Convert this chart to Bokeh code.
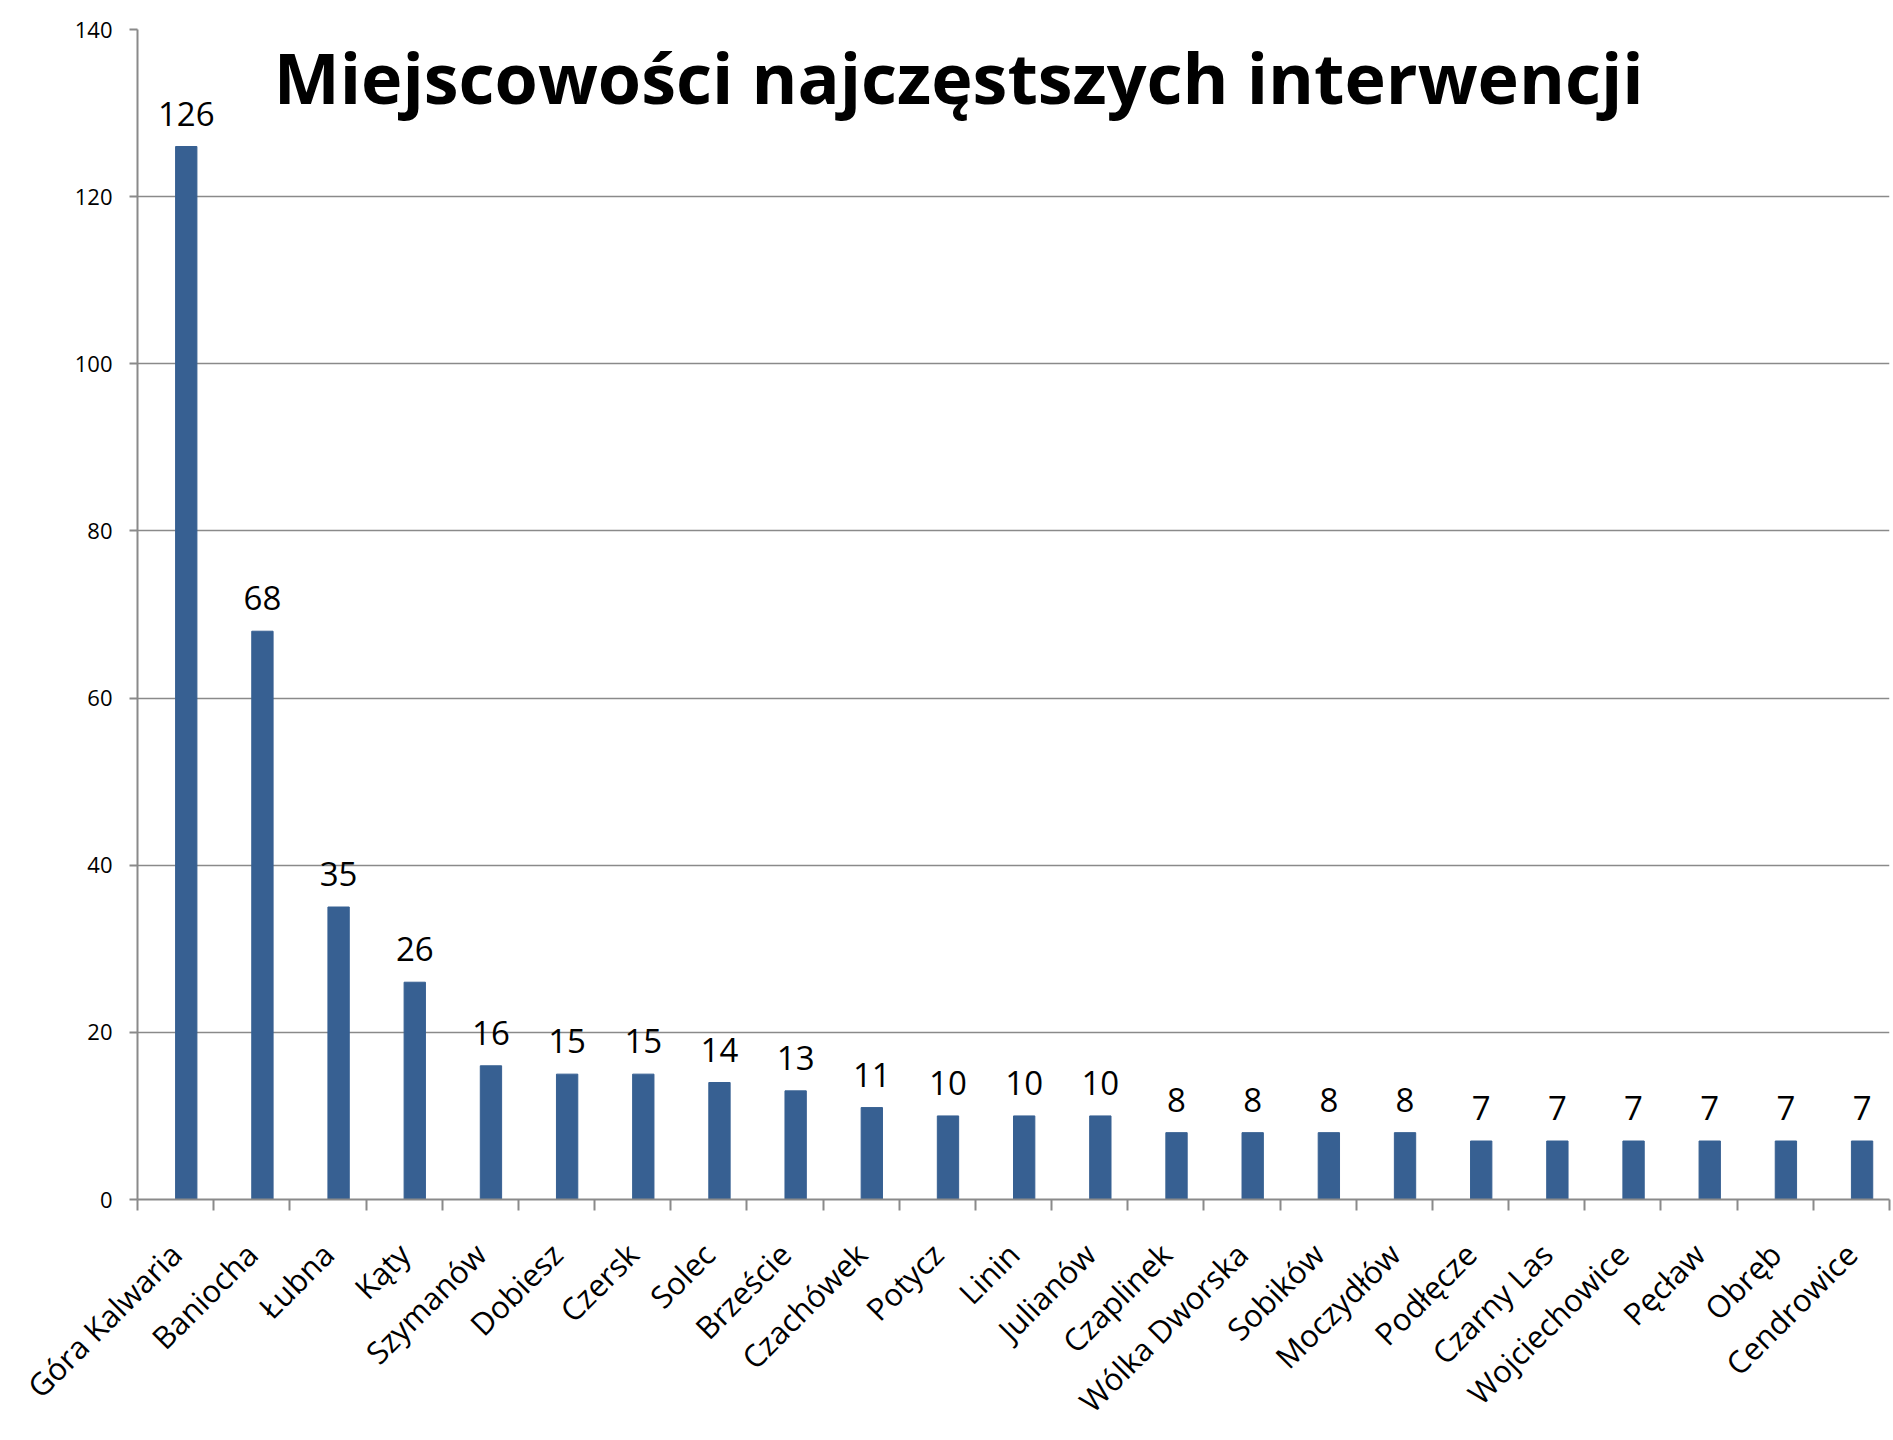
import math
from bokeh.plotting import figure
from bokeh.models import Range1d, FixedTicker, SingleIntervalTicker, Label, ColumnDataSource
from bokeh.core.properties import value
from bokeh.embed import file_html
from bokeh.resources import INLINE

title_text = "Miejscowości najczęstszych interwencji"
places = ["Góra Kalwaria", "Baniocha", "Łubna", "Kąty", "Szymanów", "Dobiesz", "Czersk",
          "Solec", "Brzeście", "Czachówek", "Potycz", "Linin", "Julianów", "Czaplinek",
          "Wólka Dworska", "Sobików", "Moczydłów", "Podłęcze", "Czarny Las", "Wojciechowice",
          "Pęcław", "Obręb", "Cendrowice"]
counts = [126, 68, 35, 26, 16, 15, 15, 14, 13, 11, 10, 10, 10, 8, 8, 8, 8, 7, 7, 7, 7, 7, 7]
y_max = 140
y_step = 20

FONT = "Open Sans"
BAR = "#376092"
GRID = "#8a8a8a"
BW = 0.28  # bar width (in category units); bars sit right of the category centre

n = len(places)
xs = [i + 0.5 for i in range(n)]
bar_x = [c + BW / 2 for c in xs]
src = ColumnDataSource(dict(x=bar_x, y=counts, lab=[str(c) for c in counts]))

p = figure(width=1891, height=1438, output_backend="svg", toolbar_location=None,
           x_range=Range1d(0, n), y_range=Range1d(0, y_max),
           min_border_left=137, min_border_right=2, min_border_top=29, min_border_bottom=236)
p.outline_line_color = None
p.background_fill_color = "white"

p.vbar(x="x", top="y", width=BW, bottom=0, source=src, fill_color=BAR, line_color=BAR)
p.text(x="x", y="y", text="lab", source=src, text_align="center", text_baseline="bottom",
       y_offset=-21, text_font=value(FONT), text_font_size="33px", text_color="black")

# x axis: labels at centres, ticks at boundaries (minor ticks)
p.xaxis.ticker = FixedTicker(ticks=xs, minor_ticks=list(range(n + 1)))
p.xaxis.major_label_overrides = {x: name for x, name in zip(xs, places)}
p.xaxis.major_tick_out = 0
p.xaxis.major_tick_in = 0
p.xaxis.minor_tick_out = 11
p.xaxis.minor_tick_in = 0
p.xaxis.minor_tick_line_color = GRID
p.xaxis.minor_tick_line_width = 2
p.xaxis.axis_line_color = GRID
p.xaxis.axis_line_width = 2
p.xaxis.major_label_orientation = math.pi / 4
p.xaxis.major_label_standoff = 38
p.xaxis.major_label_text_font = FONT
p.xaxis.major_label_text_font_size = "31px"
p.xaxis.major_label_text_color = "black"

p.yaxis.ticker = SingleIntervalTicker(interval=y_step)
p.yaxis.major_tick_out = 8
p.yaxis.major_tick_in = 0
p.yaxis.minor_tick_line_color = None
p.yaxis.major_tick_line_color = GRID
p.yaxis.major_tick_line_width = 2
p.yaxis.axis_line_color = GRID
p.yaxis.axis_line_width = 2
p.yaxis.major_label_standoff = 17
p.yaxis.major_label_text_font = FONT
p.yaxis.major_label_text_font_size = "22px"
p.yaxis.major_label_text_color = "black"

p.xgrid.grid_line_color = None
p.ygrid.grid_line_color = GRID
p.ygrid.grid_line_width = 1.5
p.ygrid.ticker = SingleIntervalTicker(interval=y_step)

p.add_layout(Label(x=10.78, y=134.3, text=title_text, text_align="center",
                   text_baseline="alphabetic", text_font=FONT, text_font_style="bold",
                   text_font_size="70px", text_color="black"))

open("out.html", "w").write(file_html(p, INLINE))
